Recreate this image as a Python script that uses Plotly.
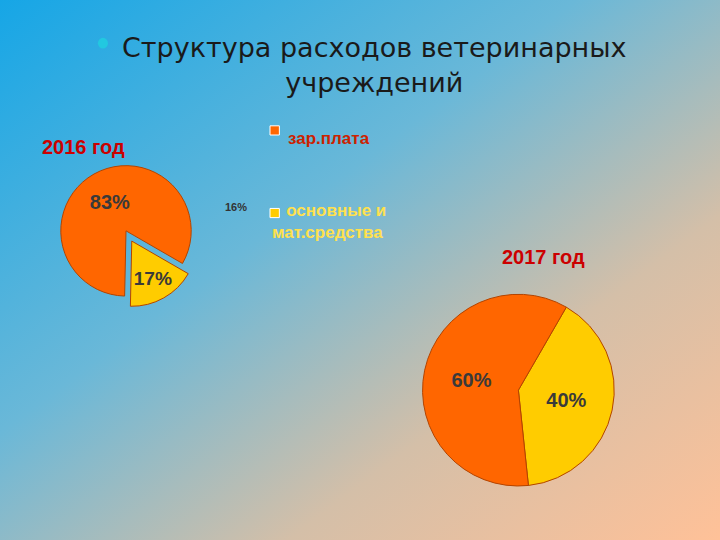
import base64
import plotly.graph_objects as go

labels = ["зар.плата", "основные и мат.средства"]
share_2016 = [83, 17]
share_2017 = [60, 40]
colors = ["#ff6600", "#ffcc00"]

svg = """<svg xmlns='http://www.w3.org/2000/svg' width='720' height='540'>
<defs><linearGradient id='g' x1='0' y1='0' x2='1' y2='1'>
<stop offset='0' stop-color='#16a6e6'/><stop offset='0.4' stop-color='#6ab8d8'/>
<stop offset='0.7' stop-color='#d4bfa8'/><stop offset='1' stop-color='#ffc198'/></linearGradient></defs>
<rect width='720' height='540' fill='url(#g)'/></svg>"""
bg = "data:image/svg+xml;base64," + base64.b64encode(svg.encode()).decode()

fig = go.Figure()
fig.add_trace(go.Pie(
    values=share_2016[::-1], labels=labels[::-1], sort=False, direction="clockwise",
    rotation=120, pull=[0.18, 0], marker=dict(colors=colors[::-1], line=dict(color="#b34400", width=1)),
    texttemplate="<b>%{value}%</b>", textposition="inside", insidetextorientation="horizontal",
    textfont=dict(size=20, color="#3a3a3a", family="Liberation Sans"),
    domain=dict(x=[0.05, 0.3], y=[0.43, 0.715]), showlegend=False, hoverinfo="skip"))
fig.add_trace(go.Pie(
    values=share_2017[::-1], labels=labels[::-1], sort=False, direction="clockwise",
    rotation=30, marker=dict(colors=colors[::-1], line=dict(color="#b34400", width=1)),
    texttemplate="<b>%{value}%</b>", textposition="inside", insidetextorientation="horizontal",
    textfont=dict(size=20, color="#3a3a3a", family="Liberation Sans"),
    domain=dict(x=[0.555, 0.885], y=[0.1, 0.455]), showlegend=False, hoverinfo="skip"))

ann = [
    dict(x=0.52, y=0.945, text="Структура расходов ветеринарных<br>учреждений",
         font=dict(size=27, color="#1a1a1a", family="DejaVu Sans")),
    dict(x=0.055, y=0.752, text="<b>2016 год</b>", xanchor="left",
         font=dict(size=20, color="#cc0000", family="Liberation Sans")),
    dict(x=0.695, y=0.525, text="<b>2017 год</b>", xanchor="left",
         font=dict(size=20, color="#cc0000", family="Liberation Sans")),
    dict(x=0.31, y=0.617, text="<b>16%</b>", xanchor="left",
         font=dict(size=11, color="#333333", family="Liberation Sans")),
    dict(x=0.397, y=0.765, text="<b>" + labels[0] + "</b>", xanchor="left",
         font=dict(size=17, color="#cc2200", family="Liberation Sans")),
    dict(x=0.375, y=0.59, text="<b>&nbsp;&nbsp;&nbsp;основные и<br>мат.средства</b>",
         xanchor="left", align="left",
         font=dict(size=17, color="#ffe14d", family="Liberation Sans")),
]
for a in ann:
    a.update(xref="paper", yref="paper", showarrow=False)

fig.update_layout(
    width=720, height=540, margin=dict(l=0, r=0, t=0, b=0),
    paper_bgcolor="#4cb0e0", annotations=ann,
    images=[dict(source=bg, xref="paper", yref="paper", x=0, y=1, sizex=1, sizey=1,
                 sizing="stretch", layer="below")],
    shapes=[
        dict(type="rect", xref="paper", yref="paper", x0=0.375, x1=0.388, y0=0.75, y1=0.767,
             fillcolor=colors[0], line=dict(color="#ffffff", width=1)),
        dict(type="rect", xref="paper", yref="paper", x0=0.375, x1=0.388, y0=0.597, y1=0.614,
             fillcolor=colors[1], line=dict(color="#ffffff", width=1)),
        dict(type="circle", xref="paper", yref="paper", x0=0.136, x1=0.15, y0=0.91, y1=0.93,
             fillcolor="#22c8e0", line=dict(width=0)),
    ],
)
fig.write_html("out.html", config={"displayModeBar": False},
               post_script="document.body.style.margin='0';")
